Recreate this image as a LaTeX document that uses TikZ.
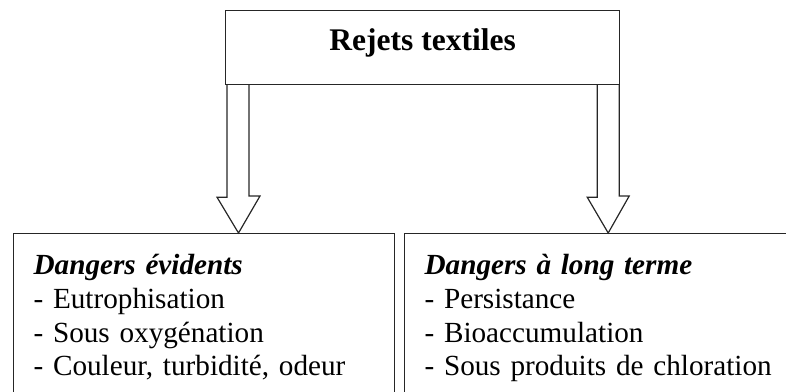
\documentclass[tikz,border=0pt]{standalone}
\usepackage{fontspec}
\setmainfont{Liberation Serif}
\usetikzlibrary{positioning}
\begin{document}
\begin{tikzpicture}[x=1pt,y=-1pt,
  boite/.style={draw=black!85, line width=1.2pt},
  fleche/.style={draw=black!85, line width=1.2pt, line join=miter}]
\useasboundingbox (0,0) rectangle (786,391);
\clip (0,0) rectangle (786,391);

\node[boite, anchor=north west, minimum width=394pt, minimum height=74pt, text height=22pt, text depth=16pt, font=\fontsize{31.5}{36}\selectfont\bfseries] (rejets) at (225,10) {Rejets textiles};

\node[boite, anchor=north west, text width=341pt, inner xsep=20pt, inner ysep=21pt, align=left, font=\fontsize{29.2}{33.7}\selectfont] (evidents) at (13,233) {\textbf{\textit{Dangers évidents}}\\- Eutrophisation\\- Sous oxygénation\\- Couleur, turbidité, odeur};
\node[boite, anchor=north west, text width=360pt, inner xsep=20pt, inner ysep=21pt, align=left, font=\fontsize{29.2}{33.7}\selectfont] (longterme) at (404,233) {\textbf{\textit{Dangers à long terme}}\\- Persistance\\- Bioaccumulation\\- Sous produits de chloration};

\draw[fleche] ([xshift=2pt]rejets.south west) -- ++(0,112) -- ++(-10,0) -- ([xshift=13.5pt]rejets.south west |- evidents.north) -- ++(21.5,-37) -- ++(-11,0) -- ([xshift=24pt]rejets.south west);
\draw[fleche] ([xshift=-23pt]rejets.south east) -- ++(0,112) -- ++(-10,0) -- ([xshift=-12pt]rejets.south east |- longterme.north) -- ++(21,-37) -- ++(-10,0) -- ([xshift=-1pt]rejets.south east);
\end{tikzpicture}
\end{document}
